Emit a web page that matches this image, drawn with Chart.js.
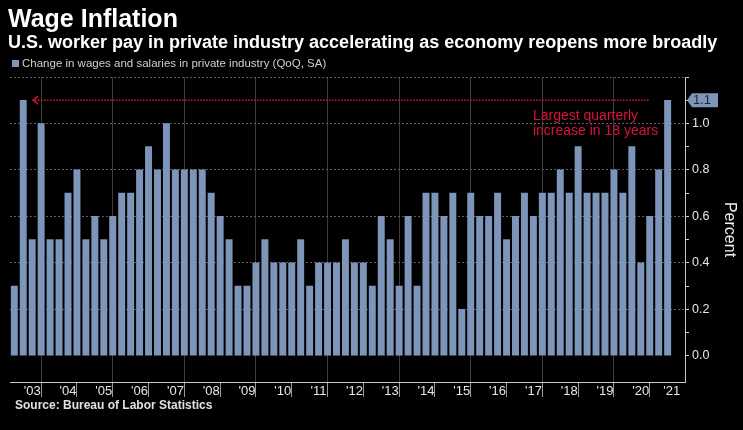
<!DOCTYPE html>
<html><head><meta charset="utf-8">
<script src="https://cdn.jsdelivr.net/npm/chart.js@4.4.0/dist/chart.umd.min.js"></script>
<style>
html,body{margin:0;padding:0;background:#000;width:743px;height:430px;overflow:hidden}
#wrap{position:relative;width:743px;height:430px;background:#000}
canvas{position:absolute;left:0;top:0}
.t{position:absolute;color:#fff;font-family:"Liberation Sans",Arial,sans-serif;white-space:nowrap;line-height:1}
</style></head><body>
<div id="wrap">
<canvas id="c" width="743" height="430"></canvas>
<div class="t" style="left:8px;top:6px;font-size:25px;font-weight:bold">Wage Inflation</div>
<div class="t" style="left:8px;top:33px;font-size:18px;font-weight:bold">U.S. worker pay in private industry accelerating as economy reopens more broadly</div>
<div class="t" style="left:12px;top:58px;font-size:11.5px;color:#cfcfcf"><span style="display:inline-block;width:7px;height:7px;background:#7d95b9;margin-right:3px;vertical-align:0px"></span>Change in wages and salaries in private industry (QoQ, SA)</div>
<div class="t" style="left:15px;top:399px;font-size:12px;font-weight:bold;color:#e0e0e0">Source: Bureau of Labor Statistics</div>
</div>
<script>
// Quarters (plotted at quarter end), 2002 Q4 .. 2021 Q1
const quarters = [
 "2002 Q4",
 "2003 Q1","2003 Q2","2003 Q3","2003 Q4",
 "2004 Q1","2004 Q2","2004 Q3","2004 Q4",
 "2005 Q1","2005 Q2","2005 Q3","2005 Q4",
 "2006 Q1","2006 Q2","2006 Q3","2006 Q4",
 "2007 Q1","2007 Q2","2007 Q3","2007 Q4",
 "2008 Q1","2008 Q2","2008 Q3","2008 Q4",
 "2009 Q1","2009 Q2","2009 Q3","2009 Q4",
 "2010 Q1","2010 Q2","2010 Q3","2010 Q4",
 "2011 Q1","2011 Q2","2011 Q3","2011 Q4",
 "2012 Q1","2012 Q2","2012 Q3","2012 Q4",
 "2013 Q1","2013 Q2","2013 Q3","2013 Q4",
 "2014 Q1","2014 Q2","2014 Q3","2014 Q4",
 "2015 Q1","2015 Q2","2015 Q3","2015 Q4",
 "2016 Q1","2016 Q2","2016 Q3","2016 Q4",
 "2017 Q1","2017 Q2","2017 Q3","2017 Q4",
 "2018 Q1","2018 Q2","2018 Q3","2018 Q4",
 "2019 Q1","2019 Q2","2019 Q3","2019 Q4",
 "2020 Q1","2020 Q2","2020 Q3","2020 Q4",
 "2021 Q1"
];
const wageChange = [
 0.3,1.1,0.5,1.0,0.5,0.5,0.7,0.8,0.5,0.6,0.5,0.6,0.7,0.7,0.8,0.9,0.8,1.0,0.8,0.8,0.8,0.8,0.7,0.6,0.5,0.3,0.3,
 0.4,0.5,0.4,0.4,0.4,0.5,0.3,0.4,0.4,0.4,0.5,0.4,0.4,0.3,0.6,0.5,0.3,0.6,0.3,0.7,0.7,0.6,0.7,0.2,0.7,0.6,0.6,
 0.7,0.5,0.6,0.7,0.6,0.7,0.7,0.8,0.7,0.9,0.7,0.7,0.7,0.8,0.7,0.9,0.4,0.6,0.8,1.1
];
const yearLabels = ["'03","'04","'05","'06","'07","'08","'09","'10","'11","'12","'13","'14","'15","'16","'17","'18","'19","'20","'21"];
const yTickValues = [0,0.1,0.2,0.3,0.4,0.5,0.6,0.7,0.8,0.9,1.0,1.1,1.2];
const yLabeled = [0,0.2,0.4,0.6,0.8,1.0];
const annotationLines = ["Largest quarterly","increase in 18 years"];
const lastValueLabel = "1.1";

const BAR = '#7d95b9';
const RED = '#d8143c';
const FONT = '"Liberation Sans", Arial, sans-serif';

// x positions: index of quarter; year boundaries at year-end quarters (Q4 -> index 0,4,8..)
const boundaries = [];
for (let k = 0; k < yearLabels.length; k++) boundaries.push(k * 4);
const mids = [];
for (let k = 0; k < yearLabels.length - 1; k++) mids.push(k * 4 + 2);
mids.push(73.47);
const gridIdx = boundaries.filter(v => v % 8 === 4);

const points = wageChange.map((v, i) => ({x: i, y: v}));

const annot = {
  id: 'annot',
  afterDatasetsDraw(chart) {
    const {ctx, scales: {x, y}} = chart;
    const yy = y.getPixelForValue(1.1);
    const x0 = x.getPixelForValue(2.1), x1 = x.getPixelForValue(70.9);
    ctx.save();
    ctx.strokeStyle = RED; ctx.lineWidth = 1.5;
    ctx.setLineDash([1.5, 1.5]);
    ctx.beginPath(); ctx.moveTo(x0 + 2, yy); ctx.lineTo(x1, yy); ctx.stroke();
    ctx.setLineDash([]);
    ctx.beginPath(); ctx.moveTo(x0 + 5, yy - 4); ctx.lineTo(x0, yy); ctx.lineTo(x0 + 5, yy + 4); ctx.stroke();
    ctx.fillStyle = RED; ctx.font = '14px ' + FONT; ctx.textBaseline = 'alphabetic'; ctx.textAlign = 'left';
    const tx = x.getPixelForValue(57.95);
    ctx.fillText(annotationLines[0], tx, 119.5);
    ctx.fillText(annotationLines[1], tx, 134.5);
    // last value tag on right axis
    const ax = chart.chartArea.right + 2;
    ctx.fillStyle = BAR;
    ctx.beginPath();
    ctx.moveTo(ax, yy); ctx.lineTo(ax + 5, yy - 7); ctx.lineTo(ax + 31, yy - 7);
    ctx.lineTo(ax + 31, yy + 7); ctx.lineTo(ax + 5, yy + 7); ctx.closePath(); ctx.fill();
    ctx.fillStyle = '#1e2636'; ctx.font = '13px ' + FONT; ctx.textBaseline = 'middle';
    ctx.fillText(lastValueLabel, ax + 6, yy + 0.5);
    ctx.restore();
  }
};

new Chart(document.getElementById('c'), {
  type: 'bar',
  data: { datasets: [{ label: 'Change in wages and salaries in private industry (QoQ, SA)', data: points,
    backgroundColor: BAR, borderWidth: 0, barThickness: 6.3 }] },
  options: {
    responsive: false, animation: false, devicePixelRatio: 1,
    layout: { padding: { left: 10, top: 77, right: 0, bottom: 0 } },
    plugins: { legend: { display: false }, tooltip: { enabled: false } },
    scales: {
      x: {
        type: 'linear', position: 'bottom', min: -0.48, max: 74.94, offset: false,
        afterBuildTicks(s) { s.ticks = boundaries.concat(mids).sort((a,b)=>a-b).map(v => ({value: v})); },
        afterFit(s) { s.height = 48; },
        grid: {
          drawOnChartArea: true, tickLength: 15, lineWidth: 1,
          color: c => (c.tick && gridIdx.includes(c.tick.value)) ? '#3c3c3c' : 'rgba(0,0,0,0)',
          tickColor: c => (c.tick && boundaries.includes(c.tick.value)) ? '#9a9a9a' : 'rgba(0,0,0,0)'
        },
        border: { display: true, color: '#c8c8c8', width: 1 },
        ticks: {
          autoSkip: false, maxRotation: 0, minRotation: 0, padding: -13, color: '#e6e6e6',
          font: { size: 13, family: FONT },
          callback(v) { const k = mids.indexOf(v); return k >= 0 ? yearLabels[k] : ''; }
        }
      },
      y: {
        position: 'right', min: -0.113, max: 1.2,
        afterBuildTicks(s) { s.ticks = yTickValues.map(v => ({value: v})); },
        afterFit(s) { s.width = 58; },
        grid: {
          tickLength: 4,
          color: c => (c.tick && c.tick.value > 0.01 && yLabeled.concat([1.2]).some(v => Math.abs(v - c.tick.value) < 1e-6)) ? '#606060' : 'rgba(0,0,0,0)',
          tickColor: '#d0d0d0'
        },
        border: { display: true, color: '#c8c8c8', width: 1, dash: [2, 2] },
        ticks: {
          autoSkip: false, padding: 3, color: '#e6e6e6', font: { size: 12.5, family: FONT },
          callback(v) { return yLabeled.some(t => Math.abs(t - v) < 1e-6) ? v.toFixed(1) : ''; }
        },
        title: { display: true, text: 'Percent', color: '#eeeeee', font: { size: 16, family: FONT }, padding: 4 }
      }
    }
  },
  plugins: [annot]
});
</script>
</body></html>
